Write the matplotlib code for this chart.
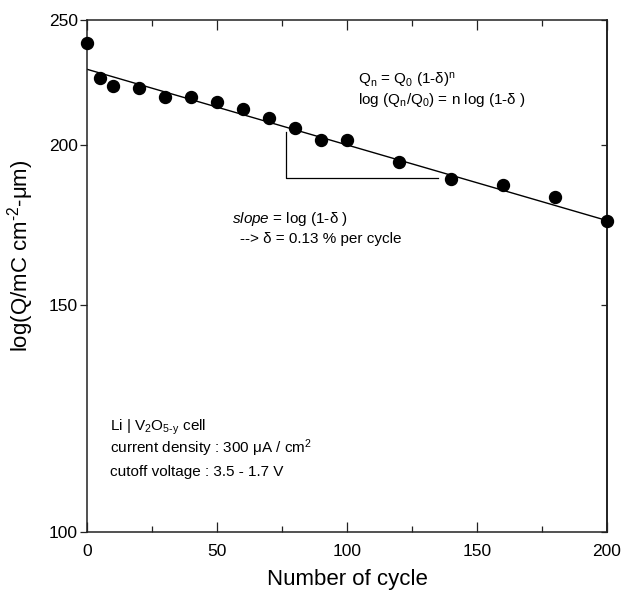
import matplotlib
matplotlib.use("Agg")
import matplotlib.pyplot as plt
from matplotlib.ticker import FixedLocator, NullLocator, FixedFormatter, MultipleLocator

plt.rcParams['font.family'] = ['Liberation Sans', 'DejaVu Sans']
plt.rcParams['mathtext.fontset'] = 'custom'
plt.rcParams['mathtext.rm'] = 'Liberation Sans'
plt.rcParams['mathtext.it'] = 'Liberation Sans:italic'
plt.rcParams['mathtext.bf'] = 'Liberation Sans:bold'

# data
cycles = [0, 5, 10, 20, 30, 40, 50, 60, 70, 80, 90, 100, 120, 140, 160, 180, 200]
capacity = [240.1, 225.3, 222.3, 221.3, 217.9, 217.7, 215.8, 213.2, 209.9,
            205.9, 201.7, 201.7, 194.0, 188.0, 186.0, 182.0, 174.6]
fit_x = [0, 200]
fit_y = [228.9, 174.6]
tri_x = [76.5, 76.5, 135]
tri_y = [204.7, 188.4, 188.4]
yticks = [100, 150, 200, 250]
xticks = [0, 50, 100, 150, 200]

fig = plt.figure(figsize=(6.22, 5.94), dpi=100)
ax = fig.add_axes([87/622, 1-532/594, 520/622, 512/594])

ax.set_yscale('log')
ax.set_xlim(0, 200)
ax.set_ylim(100, 250)

ax.plot(fit_x, fit_y, color='black', lw=1.0, zorder=2)
ax.plot(tri_x, tri_y, color='black', lw=0.9, zorder=2)
ax.plot(cycles, capacity, 'o', color='black', ms=8.6, zorder=3, clip_on=False)

for s in ax.spines.values():
    s.set_linewidth(1.1)
    s.set_color('#222222')

ax.xaxis.set_major_locator(FixedLocator(xticks))
ax.xaxis.set_minor_locator(MultipleLocator(25))
ax.tick_params(axis='x', which='both', direction='in', top=True, bottom=True,
               labelsize=12.5, pad=9, width=0.9, color='#222222')
ax.tick_params(axis='x', which='major', length=7)
ax.tick_params(axis='x', which='minor', length=4.5)

ax.yaxis.set_major_locator(FixedLocator(yticks))
ax.yaxis.set_major_formatter(FixedFormatter([str(t) for t in yticks]))
ax.yaxis.set_minor_locator(NullLocator())
ax.tick_params(axis='y', which='major', direction='out', left=True, right=False,
               length=5, width=0.9, labelsize=12.5, pad=1.5, color='#222222')

sec = ax.secondary_yaxis('right')
sec.yaxis.set_major_locator(FixedLocator(yticks))
sec.yaxis.set_minor_locator(NullLocator())
sec.tick_params(axis='y', which='both', direction='in', length=4, width=0.9,
                labelright=False, color='#222222')
sec.spines['right'].set_linewidth(1.1)

ax.set_xlabel('Number of cycle', fontsize=16)
ax.xaxis.set_label_coords(0.5, -0.073)
ax.set_ylabel(r'log(Q/mC cm$^{\text{-2}}$-μm)', fontsize=16)
ax.yaxis.set_label_coords(-0.098, 0.54)

fs = 11
ax.text(0.521, 0.873, r'Q$_{\mathregular{n}}$ = Q$_{\mathregular{0}}$ (1-δ)$^{\mathregular{n}}$',
        transform=ax.transAxes, fontsize=fs, va='baseline', ha='left')
ax.text(0.521, 0.836, r'log (Q$_{\mathregular{n}}$/Q$_{\mathregular{0}}$) = n log (1-δ )',
        transform=ax.transAxes, fontsize=fs, va='baseline', ha='left')
ax.text(0.278, 0.603, r'$slope$ = log (1-δ )',
        transform=ax.transAxes, fontsize=fs, va='baseline', ha='left')
ax.text(0.294, 0.564, '--> δ = 0.13 % per cycle',
        transform=ax.transAxes, fontsize=fs, va='baseline', ha='left')
ax.text(0.044, 0.199, r'Li | V$_{\mathregular{2}}$O$_{\text{5-y}}$ cell',
        transform=ax.transAxes, fontsize=fs, va='baseline', ha='left')
ax.text(0.044, 0.154, r'current density : 300 μA / cm$^{\mathregular{2}}$',
        transform=ax.transAxes, fontsize=fs, va='baseline', ha='left')
ax.text(0.044, 0.109, 'cutoff voltage : 3.5 - 1.7 V',
        transform=ax.transAxes, fontsize=fs, va='baseline', ha='left')

fig.savefig('out.png', dpi=100)
